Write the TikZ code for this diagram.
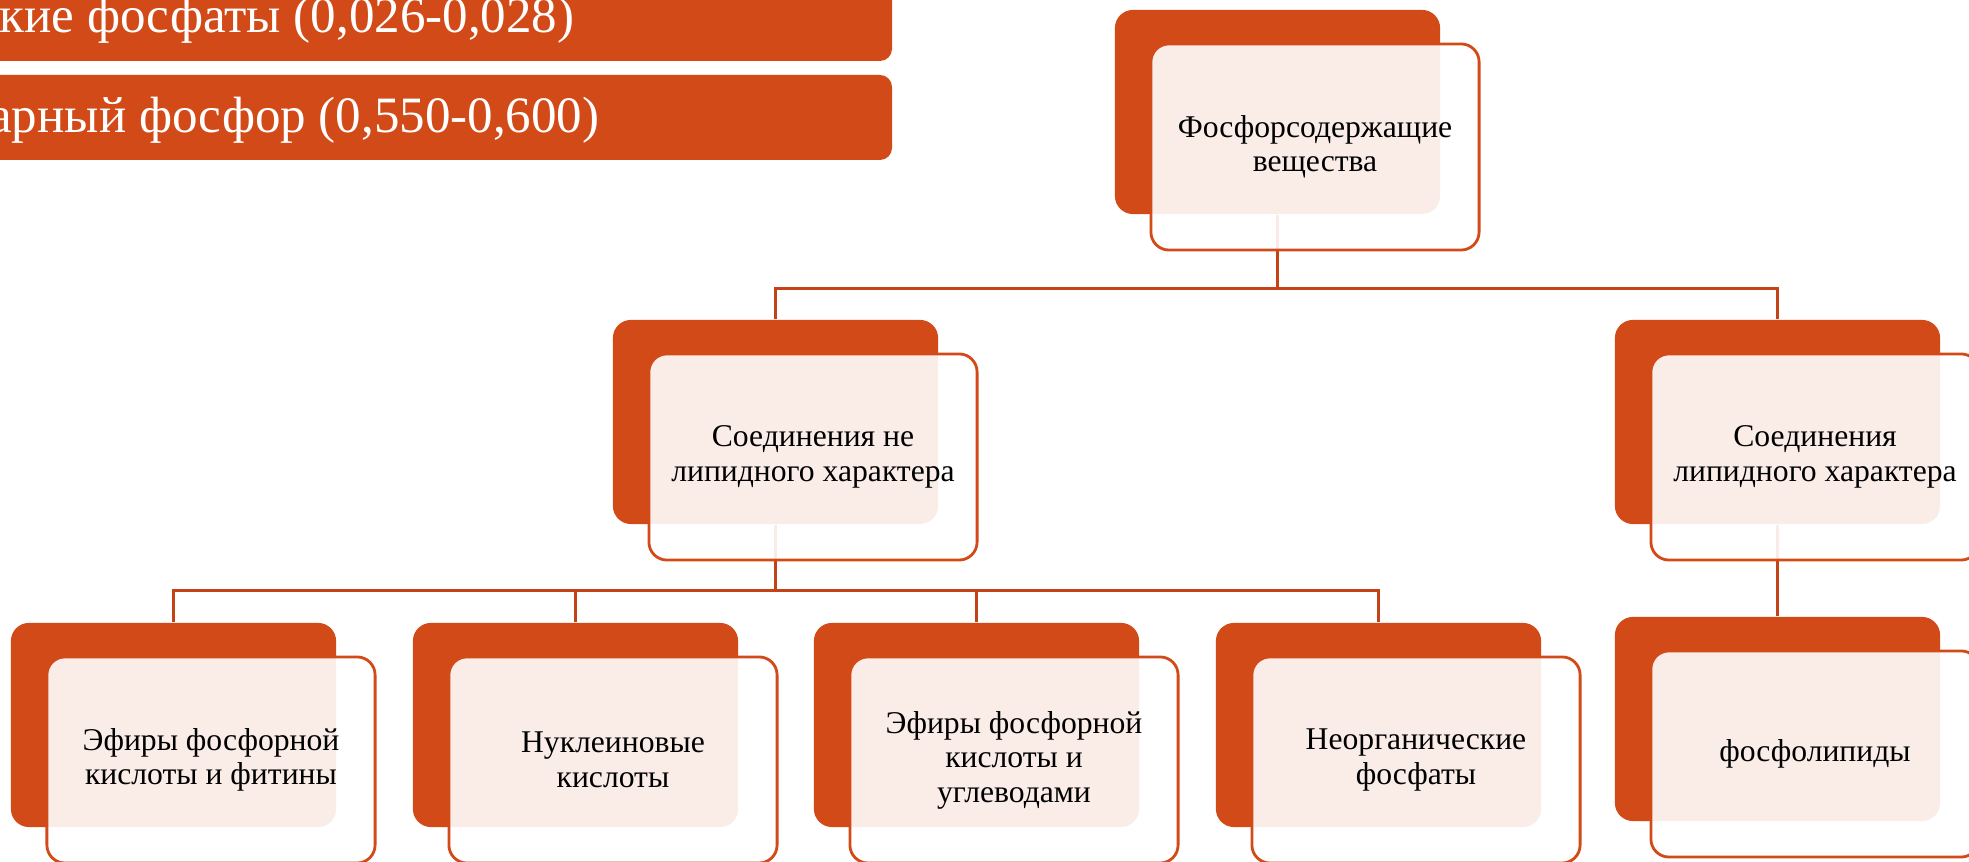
\documentclass[tikz,border=0pt]{standalone}
\usepackage{fontspec}
\setmainfont{Liberation Serif}
\usetikzlibrary{positioning,calc}
\definecolor{rojo}{HTML}{D24A18}
\definecolor{linea}{HTML}{C44316}

\begin{document}
\begin{tikzpicture}[x=0.01cm,y=0.01cm,
    fondo/.style={fill=rojo, rounded corners=0.18cm, minimum width=3.25cm, minimum height=2.04cm, inner sep=0pt},
    caja/.style={draw=rojo, line width=0.8pt, fill=white, fill opacity=0.9, text opacity=1,
      rounded corners=0.18cm, minimum width=3.28cm, minimum height=2.06cm, inner sep=0pt,
      align=center, font=\fontsize{9}{9.8}\selectfont},
    barra/.style={fill=rojo, rounded corners=0.12cm},
    texto/.style={text=white, inner sep=0pt, anchor=base east, font=\fontsize{14.5}{16}\selectfont},
    conector/.style={draw=linea, line width=0.75pt}]
  \useasboundingbox (0,0) rectangle (1969,-862);
  \clip (0,0) rectangle (1969,-862);

  %barras arriba
  \fill[barra] (-60,30) rectangle (892,-61);
  \fill[barra] (-60,-75) rectangle (892,-160);
  \node[texto] (t1) at (575,-33) {кие фосфаты (0,026-0,028)};
  \node[texto] (t2) at (600,-133) {арный фосфор (0,550-0,600)};

  %fondos
  \node[fondo] (sup) at (1277.5,-112) {};
  \node[fondo] (nolip) at (775.5,-422) {};
  \node[fondo] (lip) at (1777.5,-422) {};
  \node[fondo] (ef1) at (173.5,-725) {};
  \node[fondo] (nuc) at (575.5,-725) {};
  \node[fondo] (ef2) at (976.5,-725) {};
  \node[fondo] (neo) at (1378.5,-725) {};
  \node[fondo] (fos) at (1777.5,-719) {};

  %conectores
  \draw[conector] (sup.south) -- ++(0,-74) -| (nolip.north);
  \draw[conector] (sup.south) -- ++(0,-74) -| (lip.north);
  \foreach \n in {ef1,nuc,ef2,neo}
    \draw[conector] (nolip.south) -- ++(0,-66) -| (\n.north);
  \draw[conector] (lip.south) -- (fos.north);

  %cajas con texto
  \node[caja] (supc) at ([shift={(37.5,-35)}]sup.center) {Фосфорсодержащие\\вещества};
  \node[caja] (nolipc) at ([shift={(37.5,-35)}]nolip.center) {Соединения не\\липидного характера};
  \node[caja] (lipc) at ([shift={(37.5,-35)}]lip.center) {Соединения\\липидного характера};
  \node[caja] (ef1c) at ([shift={(37.5,-35)}]ef1.center) {Эфиры фосфорной\\кислоты и фитины};
  \node[caja] (nucc) at ([shift={(37.5,-35)}]nuc.center) {Нуклеиновые\\кислоты};
  \node[caja] (ef2c) at ([shift={(37.5,-35)}]ef2.center) {Эфиры фосфорной\\кислоты и\\углеводами};
  \node[caja] (neoc) at ([shift={(37.5,-35)}]neo.center) {Неорганические\\фосфаты};
  \node[caja] (fosc) at ([shift={(37.5,-35)}]fos.center) {фосфолипиды};
\end{tikzpicture}
\end{document}
